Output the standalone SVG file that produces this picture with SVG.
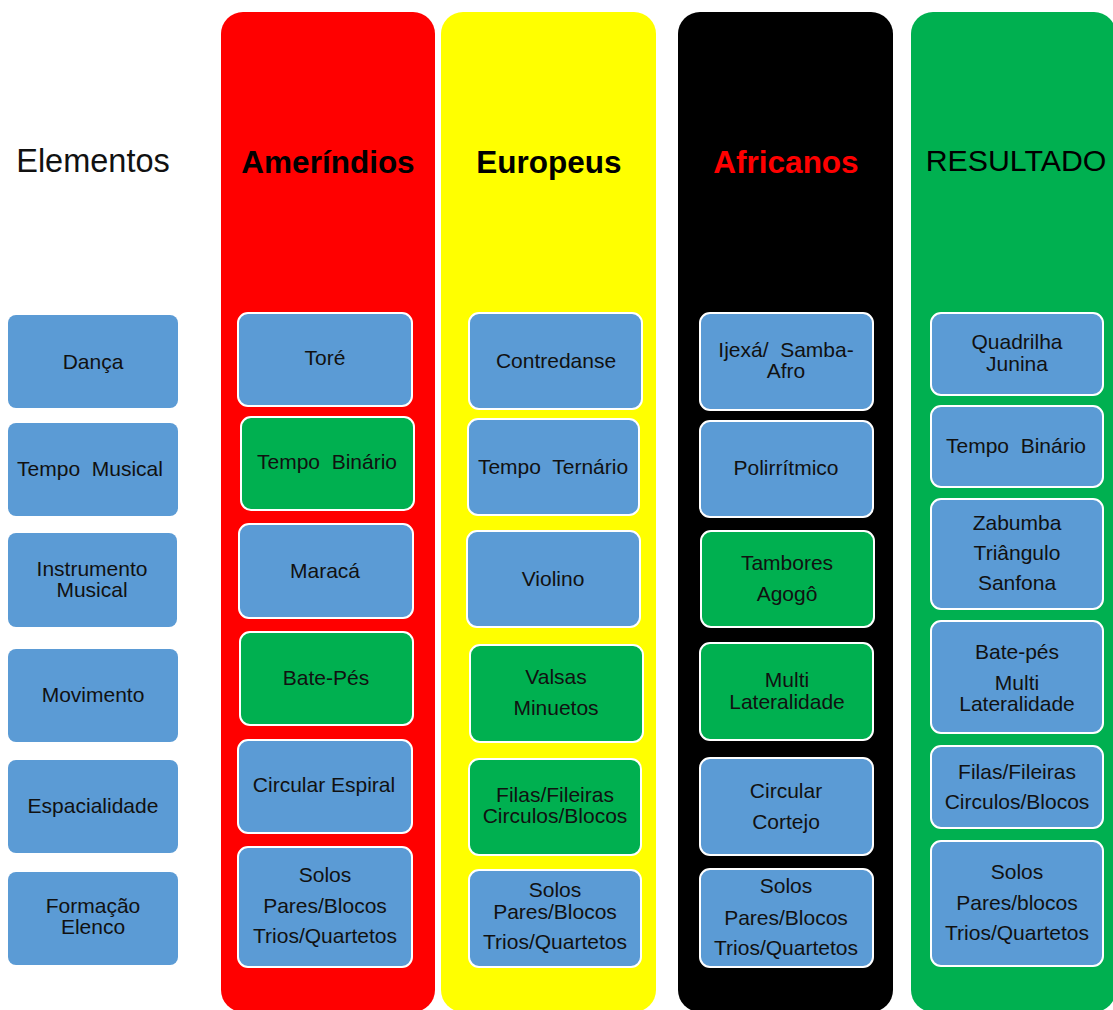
<svg xmlns="http://www.w3.org/2000/svg" width="1113" height="1010" viewBox="0 0 1113 1010">
<style>
.col{stroke:none}
.b{stroke:#fff;stroke-width:2}
.el{fill:#5b9bd5}
.bl{fill:#5b9bd5}
.gr{fill:#00b050}
.t{font-family:"Liberation Sans",Arial,sans-serif;font-size:21px;fill:#111;text-anchor:middle;white-space:pre}
.h{font-family:"Liberation Sans",Arial,sans-serif;text-anchor:middle;white-space:pre}
</style>
<rect width="1113" height="1010" fill="#fff"/>
<g id="columns">
<rect class="col" x="221" y="12" width="214" height="1000" rx="22" fill="#ff0000"/>
<rect class="col" x="441" y="12" width="215" height="1000" rx="22" fill="#ffff00"/>
<rect class="col" x="678" y="12" width="215" height="1000" rx="22" fill="#000000"/>
<rect class="col" x="911" y="12" width="205" height="1000" rx="22" fill="#00b050"/>
</g>
<g id="headings">
<text class="h" x="93" y="172" font-size="32.5" fill="#111">Elementos</text>
<text class="h" x="328" y="173" font-size="31.5" font-weight="bold" fill="#000">Ameríndios</text>
<text class="h" x="549" y="173" font-size="31.5" font-weight="bold" fill="#000">Europeus</text>
<text class="h" x="786" y="173" font-size="31.5" font-weight="bold" fill="#ff0000">Africanos</text>
<text class="h" x="1016" y="171" font-size="30.3" fill="#000">RESULTADO</text>
</g>
<g id="connectors"></g>
<g id="elementos">
<g id="el-danca"><rect class="el" x="8" y="315" width="170" height="93" rx="8"/><text class="t" x="93" y="369">Dança</text></g>
<g id="el-tempo"><rect class="el" x="8" y="423" width="170" height="93" rx="8"/><text class="t" x="90" y="476" xml:space="preserve">Tempo  Musical</text></g>
<g id="el-instrumento"><rect class="el" x="8" y="533" width="169" height="94" rx="8"/><text class="t" x="92" y="576">Instrumento</text><text class="t" x="92" y="597">Musical</text></g>
<g id="el-movimento"><rect class="el" x="8" y="649" width="170" height="93" rx="8"/><text class="t" x="93" y="702">Movimento</text></g>
<g id="el-espacialidade"><rect class="el" x="8" y="760" width="170" height="93" rx="8"/><text class="t" x="93" y="813">Espacialidade</text></g>
<g id="el-formacao"><rect class="el" x="8" y="872" width="170" height="93" rx="8"/><text class="t" x="93" y="913">Formação</text><text class="t" x="93" y="934">Elenco</text></g>
</g>
<g id="amerindios">
<g id="am-tore"><rect class="b bl" x="238" y="313" width="174" height="93" rx="10"/><text class="t" x="325" y="365">Toré</text></g>
<g id="am-tempo"><rect class="b gr" x="241" y="417" width="173" height="93" rx="10"/><text class="t" x="327" y="469" xml:space="preserve">Tempo  Binário</text></g>
<g id="am-maraca"><rect class="b bl" x="239" y="524" width="174" height="94" rx="10"/><text class="t" x="325" y="578">Maracá</text></g>
<g id="am-batepes"><rect class="b gr" x="240" y="632" width="173" height="93" rx="10"/><text class="t" x="326" y="685">Bate-Pés</text></g>
<g id="am-circular"><rect class="b bl" x="238" y="740" width="174" height="93" rx="10"/><text class="t" x="324" y="792">Circular Espiral</text></g>
<g id="am-solos"><rect class="b bl" x="238" y="847" width="174" height="120" rx="10"/><text class="t" x="325" y="882">Solos</text><text class="t" x="325" y="913">Pares/Blocos</text><text class="t" x="325" y="943">Trios/Quartetos</text></g>
</g>
<g id="europeus">
<g id="eu-contredanse"><rect class="b bl" x="469" y="313" width="173" height="96" rx="10"/><text class="t" x="556" y="368">Contredanse</text></g>
<g id="eu-tempo"><rect class="b bl" x="468" y="419" width="171" height="96" rx="10"/><text class="t" x="553" y="474" xml:space="preserve">Tempo  Ternário</text></g>
<g id="eu-violino"><rect class="b bl" x="467" y="531" width="173" height="96" rx="10"/><text class="t" x="553" y="586">Violino</text></g>
<g id="eu-valsas"><rect class="b gr" x="470" y="645" width="173" height="97" rx="10"/><text class="t" x="556" y="684">Valsas</text><text class="t" x="556" y="715">Minuetos</text></g>
<g id="eu-filas"><rect class="b gr" x="469" y="759" width="172" height="96" rx="10"/><text class="t" x="555" y="802">Filas/Fileiras</text><text class="t" x="555" y="823">Circulos/Blocos</text></g>
<g id="eu-solos"><rect class="b bl" x="469" y="870" width="172" height="97" rx="10"/><text class="t" x="555" y="897">Solos</text><text class="t" x="555" y="919">Pares/Blocos</text><text class="t" x="555" y="949">Trios/Quartetos</text></g>
</g>
<g id="africanos">
<g id="af-ijexa"><rect class="b bl" x="700" y="313" width="173" height="97" rx="10"/><text class="t" x="786" y="357" xml:space="preserve">Ijexá/  Samba-</text><text class="t" x="786" y="378">Afro</text></g>
<g id="af-poli"><rect class="b bl" x="700" y="421" width="173" height="96" rx="10"/><text class="t" x="786" y="475">Polirrítmico</text></g>
<g id="af-tambores"><rect class="b gr" x="701" y="531" width="173" height="96" rx="10"/><text class="t" x="787" y="570">Tambores</text><text class="t" x="787" y="601">Agogô</text></g>
<g id="af-multi"><rect class="b gr" x="700" y="643" width="173" height="97" rx="10"/><text class="t" x="787" y="687">Multi</text><text class="t" x="787" y="709">Lateralidade</text></g>
<g id="af-circular"><rect class="b bl" x="700" y="758" width="173" height="97" rx="10"/><text class="t" x="786" y="798">Circular</text><text class="t" x="786" y="829">Cortejo</text></g>
<g id="af-solos"><rect class="b bl" x="700" y="869" width="173" height="98" rx="10"/><text class="t" x="786" y="893">Solos</text><text class="t" x="786" y="925">Pares/Blocos</text><text class="t" x="786" y="955">Trios/Quartetos</text></g>
</g>
<g id="resultado">
<g id="re-quadrilha"><rect class="b bl" x="931" y="313" width="172" height="82" rx="10"/><text class="t" x="1017" y="349">Quadrilha</text><text class="t" x="1017" y="371">Junina</text></g>
<g id="re-tempo"><rect class="b bl" x="931" y="406" width="172" height="81" rx="10"/><text class="t" x="1016" y="453" xml:space="preserve">Tempo  Binário</text></g>
<g id="re-instr"><rect class="b bl" x="931" y="499" width="172" height="110" rx="10"/><text class="t" x="1017" y="530">Zabumba</text><text class="t" x="1017" y="560">Triângulo</text><text class="t" x="1017" y="590">Sanfona</text></g>
<g id="re-mov"><rect class="b bl" x="931" y="621" width="172" height="112" rx="10"/><text class="t" x="1017" y="659">Bate-pés</text><text class="t" x="1017" y="690">Multi</text><text class="t" x="1017" y="711">Lateralidade</text></g>
<g id="re-esp"><rect class="b bl" x="931" y="746" width="172" height="82" rx="10"/><text class="t" x="1017" y="779">Filas/Fileiras</text><text class="t" x="1017" y="809">Circulos/Blocos</text></g>
<g id="re-solos"><rect class="b bl" x="931" y="841" width="172" height="125" rx="10"/><text class="t" x="1017" y="879">Solos</text><text class="t" x="1017" y="910">Pares/blocos</text><text class="t" x="1017" y="940">Trios/Quartetos</text></g>
</g>
</svg>
